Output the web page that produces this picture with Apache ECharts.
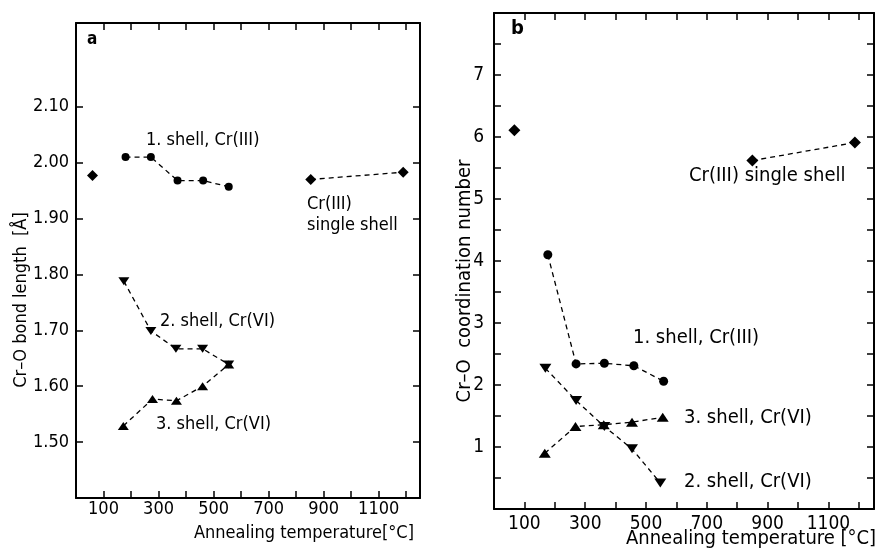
<!DOCTYPE html>
<html>
<head>
<meta charset="utf-8">
<script src="https://cdn.jsdelivr.net/npm/echarts@6/dist/echarts.min.js"></script>
<style>html,body{margin:0;padding:0;background:#fff}#c{width:875px;height:551px}</style>
</head>
<body>
<div id="c"></div>
<script>
// ---------- DATA ----------
// Panel a: Cr–O bond length [Å] vs annealing temperature [°C]
const aIsoX = [60];
const aIsoY = [1.977];
const aShell1X = [180, 272, 369, 462, 555];
const aShell1Y = [2.010, 2.010, 1.968, 1.968, 1.957];
const aSingleX = [853, 1189];
const aSingleY = [1.970, 1.983];
const aShell2X = [174, 272, 363, 460, 555];
const aShell2Y = [1.788, 1.699, 1.667, 1.667, 1.639];
const aShell3X = [172, 278, 365, 460, 555];
const aShell3Y = [1.529, 1.577, 1.574, 1.600, 1.639];
// Panel b: Cr–O coordination number vs annealing temperature [°C]
const bIsoX = [67];
const bIsoY = [6.11];
const bShell1X = [177, 270, 363, 460, 558];
const bShell1Y = [4.10, 2.34, 2.35, 2.31, 2.06];
const bSingleX = [850, 1187];
const bSingleY = [5.62, 5.91];
const bShell2X = [169, 270, 363, 454, 547];
const bShell2Y = [2.27, 1.75, 1.33, 0.97, 0.42];
const bShell3X = [167, 268, 361, 454, 555];
const bShell3Y = [0.90, 1.33, 1.36, 1.40, 1.48];
// Tick labels
const xTickLabels = [100, 300, 500, 700, 900, 1100];
const xTicks = [100, 200, 300, 400, 500, 600, 700, 800, 900, 1000, 1100, 1200];
const aYTickLabels = [1.50, 1.60, 1.70, 1.80, 1.90, 2.00, 2.10];
const bYTickLabels = [1, 2, 3, 4, 5, 6, 7];
const bYTicks = [0.5, 1, 1.5, 2, 2.5, 3, 3.5, 4, 4.5, 5, 5.5, 6, 6.5, 7, 7.5];

// ---------- CHART ----------
const FONT = '"DejaVu Sans Condensed", "DejaVu Sans", sans-serif';
const zip = (xs, ys) => xs.map((x, i) => [x, ys[i]]);
const chart = echarts.init(document.getElementById('c'), null, {renderer: 'canvas'});

const axLine = {show: true, onZero: false, lineStyle: {color: '#000', width: 2}};
function xAx(grid, pos, labels, fs, margin) {
  return {
    type: 'value', gridIndex: grid, position: pos, min: 0, max: 1250,
    axisLine: axLine,
    axisTick: {show: true, inside: true, length: 7, lineStyle: {color: '#000', width: 1.5}, customValues: xTicks},
    axisLabel: labels ? {show: true, customValues: xTickLabels, color: '#000', fontFamily: FONT, fontSize: fs, margin: margin, formatter: v => String(v)} : {show: false},
    splitLine: {show: false}
  };
}
function yAx(grid, pos, min, max, ticks, labels, fs, fmt, margin) {
  return {
    type: 'value', gridIndex: grid, position: pos, min: min, max: max,
    axisLine: axLine,
    axisTick: {show: true, inside: true, length: 7, lineStyle: {color: '#000', width: 1.5}, customValues: ticks},
    axisLabel: labels ? {show: true, customValues: labels, color: '#000', fontFamily: FONT, fontSize: fs, margin: margin, formatter: fmt} : {show: false},
    splitLine: {show: false}
  };
}

const dash = {color: '#000', width: 1.3, type: [5, 4]};
function ser(name, ai, data, symbol, size, line, rot) {
  return {
    name: name, type: 'line', xAxisIndex: ai, yAxisIndex: ai, data: data,
    symbol: symbol, symbolSize: size, symbolRotate: rot || 0, showSymbol: true,
    itemStyle: {color: '#000'},
    lineStyle: line ? dash : {width: 0, opacity: 0},
    animation: false, z: 3
  };
}

function txt(left, top, text, fs, bold) {
  return {type: 'text', left: left, top: top,
    style: {text: text, fill: '#000', font: (bold ? 'bold ' : '') + fs + 'px ' + FONT}};
}
function rtxt(x, y, text, fs) {
  return {type: 'text', x: x, y: y, rotation: Math.PI / 2,
    style: {text: text, fill: '#000', font: fs + 'px ' + FONT, align: 'center', verticalAlign: 'middle'}};
}

const option = {
  backgroundColor: '#fff',
  animation: false,
  grid: [
    {left: 76, top: 23, width: 344, height: 475},
    {left: 494, top: 13, width: 380, height: 496}
  ],
  xAxis: [
    xAx(0, 'bottom', true, 18, 2),
    xAx(0, 'top', false),
    xAx(1, 'bottom', true, 19, 6),
    xAx(1, 'top', false)
  ],
  yAxis: [
    yAx(0, 'left', 1.40, 2.25, aYTickLabels, aYTickLabels, 18, v => v.toFixed(2), 7),
    yAx(0, 'right', 1.40, 2.25, aYTickLabels, null),
    yAx(1, 'left', 0, 8, bYTicks, bYTickLabels, 19, v => String(v), 10),
    yAx(1, 'right', 0, 8, bYTicks, null)
  ],
  series: [
    ser('a iso', 0, zip(aIsoX, aIsoY), 'diamond', 11, false),
    ser('a shell1', 0, zip(aShell1X, aShell1Y), 'circle', 8, true),
    ser('a single', 0, zip(aSingleX, aSingleY), 'diamond', 11, true),
    ser('a shell2', 0, zip(aShell2X, aShell2Y), 'triangle', [11, 8], true, 180),
    ser('a shell3', 0, zip(aShell3X, aShell3Y), 'triangle', [11, 8], true),
    ser('b iso', 2, zip(bIsoX, bIsoY), 'diamond', 12, false),
    ser('b shell1', 2, zip(bShell1X, bShell1Y), 'circle', 9, true),
    ser('b single', 2, zip(bSingleX, bSingleY), 'diamond', 12, true),
    ser('b shell2', 2, zip(bShell2X, bShell2Y), 'triangle', [12, 9], true, 180),
    ser('b shell3', 2, zip(bShell3X, bShell3Y), 'triangle', [12, 9], true)
  ],
  graphic: [
    txt(87, 31, 'a', 17, true),
    txt(511, 19, 'b', 20, true),
    txt(146, 131, '1. shell, Cr(III)', 18),
    txt(307, 195, 'Cr(III)', 18),
    txt(307, 216, 'single shell', 18),
    txt(160, 312, '2. shell, Cr(VI)', 18),
    txt(156, 415, '3. shell, Cr(VI)', 18),
    txt(194, 524, 'Annealing temperature[°C]', 18),
    rtxt(21, 300, 'Cr–O bond length  [Å]', 18),
    txt(689, 166, 'Cr(III) single shell', 20),
    txt(633, 328, '1. shell, Cr(III)', 20),
    txt(684, 408, '3. shell, Cr(VI)', 20),
    txt(684, 472, '2. shell, Cr(VI)', 20),
    txt(626, 529, 'Annealing temperature [°C]', 20),
    rtxt(465, 281, 'Cr–O  coordination number', 20)
  ]
};
chart.setOption(option);
</script>
</body>
</html>
